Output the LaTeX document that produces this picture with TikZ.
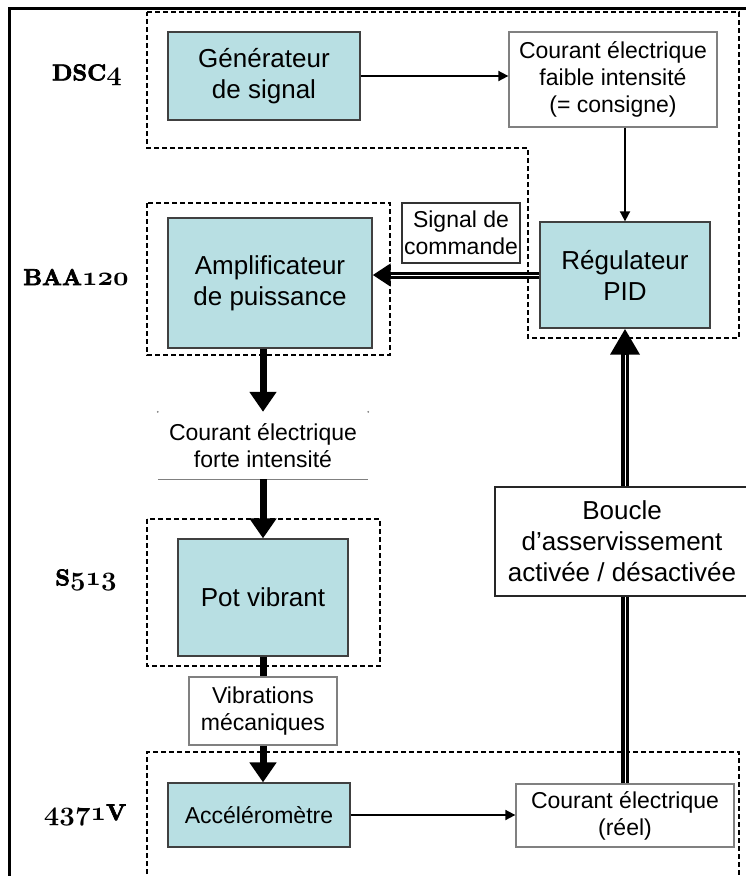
\documentclass[tikz,border=0pt]{standalone}
\usepackage{fontspec}
\setmainfont{Liberation Sans}
\newfontfamily\lmbold{lmroman10-bold.otf}[FakeBold=3]
\usetikzlibrary{arrows.meta}

\definecolor{boxcyan}{RGB}{184,223,227}
\font\osfont=cmmib10 at 27pt
\newcommand{\osnum}[1]{{\osfont #1}}

\begin{document}
\begin{tikzpicture}[x=1pt, y=-1pt,
    cyanbox/.style={draw=black!75, line width=1.3pt, fill=boxcyan, align=center, inner sep=0pt,
      font=\fontsize{26}{31}\selectfont},
    whitebox/.style={draw=gray, line width=1.3pt, fill=white, align=center, inner sep=0pt,
      font=\fontsize{23}{27}\selectfont},
    unitlabel/.style={font=\lmbold\fontsize{23}{27}\selectfont},
    groupline/.style={dash pattern=on 5pt off 3pt, line width=1.5pt},
    thinarrow/.style={line width=1.8pt, -{Triangle[length=10pt, width=10pt]}},
    thickarrow/.style={line width=7pt, -{Triangle[length=20pt, width=26pt]}}]
    \useasboundingbox (0,0) rectangle (746,876);
    \clip (0,0) rectangle (746,876);

    \node[cyanbox, minimum width=192pt, minimum height=88pt] (gen) at (264,76) {Générateur\\de signal};
    \node[whitebox, minimum width=208pt, minimum height=95pt] (consigne) at (613,79.5) {Courant électrique\\faible intensité\\(= consigne)};
    \node[cyanbox, minimum width=170pt, minimum height=106pt] (pid) at (625,275) {Régulateur\\PID};
    \node[cyanbox, minimum width=204pt, minimum height=130pt] (ampli) at (270,283) {Amplificateur\\de puissance};
    \node[whitebox, draw=black!80, minimum width=118pt, minimum height=60pt] (cmd) at (461,233) {Signal de\\commande};
    \node[align=center, inner sep=0pt, minimum width=210pt, minimum height=67pt,
      font=\fontsize{23}{27}\selectfont] (forte) at (263,445.5) {Courant électrique\\forte intensité};
    \node[cyanbox, minimum width=170pt, minimum height=117pt] (pot) at (263,597.5) {Pot vibrant};
    \node[whitebox, minimum width=148pt, minimum height=68pt] (vib) at (263,711) {Vibrations\\mécaniques};
    \node[cyanbox, minimum width=182pt, minimum height=64pt, font=\fontsize{23}{27}\selectfont] (acc) at (259,815) {Accéléromètre};
    \node[whitebox, minimum width=218pt, minimum height=63pt] (reel) at (625,815.5) {Courant électrique\\(réel)};

    \node[unitlabel] (dsc) at (87,75) {DSC\osnum{4}};
    \node[unitlabel] (baa) at (76,277) {BAA\osnum{120}};
    \node[unitlabel] (s) at (86,580) {S\osnum{513}};
    \node[unitlabel] (acclab) at (85,815) {\osnum{4371}V};

    % cadres
    \draw[line width=3pt] (9,880) -- (9,8) -- (750,8);
    \draw[groupline] (147,12) -- (739,12) -- (739,338) -- (528,338) -- (528,148) -- (147,148) -- cycle;
    \draw[groupline] (147,203) rectangle (390,355);
    \draw[groupline] (147,519) rectangle (380,666);
    \draw[groupline] (147,890) -- (147,752) -- (739,752) -- (739,890);
    \draw[gray, line width=1pt] (forte.south west) -- (forte.south east);
    \fill[gray] (forte.north west) circle (1pt) (forte.north east) circle (1pt);

    % fleches
    \draw[thinarrow] (gen.east) -- (gen.east -| consigne.west);
    \draw[thinarrow] (consigne.south -| pid.north) -- (pid.north);
    \draw[thinarrow] (acc.east) -- (acc.east -| reel.west);
    \draw[line width=7pt, -{Triangle[length=18pt, width=22pt]}] (pid.west) -- (pid.west -| ampli.east);
    \draw[white, line width=1pt, shorten >=18pt] (pid.west) -- (pid.west -| ampli.east);
    \draw[thickarrow] (ampli.south -| forte.north) -- (forte.north);
    \draw[thickarrow] (forte.south) -- (pot.north);
    \draw[line width=7pt] (pot.south) -- (vib.north);
    \draw[thickarrow] (vib.south) -- (vib.south |- acc.north);
    \draw[line width=8pt, -{Triangle[length=26pt, width=28pt]}] (reel.north) -- (pid.south);
    \draw[white, line width=1pt, shorten >=26pt] (reel.north) -- (pid.south);

    \node[whitebox, draw=black!85, minimum width=254pt, minimum height=109pt,
      font=\fontsize{26}{31}\selectfont] (boucle) at (622,541.5) {Boucle\\d’asservissement\\activée / désactivée};
\end{tikzpicture}
\end{document}
